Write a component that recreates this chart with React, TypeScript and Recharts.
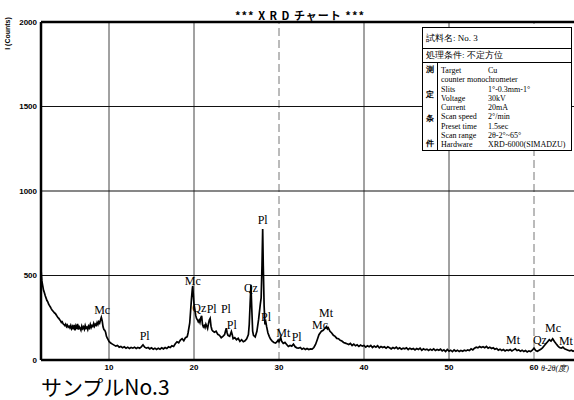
import React from "react"
import { ComposedChart, Line, Scatter, XAxis, YAxis, ReferenceLine } from "recharts"

// 2θ (deg) / intensity (counts)
const lowAngle: [number, number][] = [
  [2.0, 540], [2.05, 500], [2.1, 468], [2.2, 440], [2.3, 412], [2.4, 398], [2.5, 380], [2.6, 366], [2.7, 352],
  [2.8, 344], [2.9, 330], [3.0, 322], [3.1, 314], [3.2, 304], [3.3, 296], [3.4, 290], [3.5, 284], [3.6, 278],
  [3.7, 274], [3.8, 266], [3.9, 258], [4.0, 250], [4.1, 246], [4.2, 238], [4.3, 232], [4.4, 222], [4.5, 226],
  [4.6, 214], [4.7, 210], [4.8, 204], [4.9, 212], [5.0, 198], [5.1, 206], [5.2, 194], [5.3, 200], [5.4, 190],
  [5.5, 204], [5.6, 186], [5.7, 198], [5.8, 182], [5.9, 208], [6.0, 176], [6.1, 200], [6.2, 184], [6.3, 214],
  [6.4, 180], [6.5, 196], [6.6, 188], [6.7, 176], [6.8, 200], [6.9, 186], [7.0, 196], [7.1, 182], [7.2, 204],
  [7.3, 188], [7.4, 194], [7.5, 180], [7.6, 200], [7.7, 190], [7.8, 210], [7.9, 192], [8.0, 204], [8.1, 198],
  [8.2, 216], [8.3, 200], [8.4, 212], [8.5, 206], [8.6, 222], [8.7, 210], [8.8, 226], [8.9, 218], [9.0, 236],
  [9.1, 252], [9.2, 232], [9.3, 196], [9.4, 180], [9.5, 176], [9.6, 164], [9.7, 140], [9.8, 130], [9.9, 120],
  [10.0, 110], [10.2, 100], [10.4, 94], [10.6, 88], [10.8, 82], [11.0, 86], [11.2, 76], [11.4, 80], [11.6, 72],
  [11.8, 78], [12.0, 70], [12.2, 76], [12.4, 68], [12.6, 74], [12.8, 70], [13.0, 76], [13.2, 68], [13.4, 74],
  [13.6, 70], [13.8, 78], [14.0, 90], [14.2, 76], [14.4, 70], [14.6, 74], [14.8, 66], [15.0, 72], [15.2, 64],
  [15.4, 70], [15.6, 62], [15.8, 70], [16.0, 64], [16.2, 72], [16.4, 66], [16.6, 74], [16.8, 68], [17.0, 78],
  [17.2, 74], [17.4, 84], [17.6, 80], [17.8, 96], [18.0, 108], [18.2, 102], [18.4, 118], [18.6, 126],
  [18.8, 114], [19.0, 132], [19.2, 138], [19.3, 160],
]

const mainPeaks: [number, number][] = [
  [19.5, 220], [19.6, 290], [19.7, 360], [19.8, 420], [19.85, 438], [19.9, 400], [20.0, 330], [20.1, 300],
  [20.2, 264], [20.3, 246], [20.4, 238], [20.5, 226], [20.6, 236], [20.7, 222], [20.8, 250], [20.9, 262],
  [21.0, 210], [21.1, 196], [21.2, 204], [21.3, 192], [21.4, 212], [21.5, 200], [21.6, 186], [21.7, 214],
  [21.8, 236], [21.9, 246], [22.0, 200], [22.1, 180], [22.2, 172], [22.4, 164], [22.6, 170], [22.8, 152],
  [23.0, 146], [23.2, 132], [23.4, 140], [23.6, 150], [23.7, 170], [23.8, 188], [23.9, 160], [24.0, 146],
  [24.2, 140], [24.4, 168], [24.5, 150], [24.6, 126], [24.8, 132], [25.0, 120], [25.2, 128], [25.4, 110],
  [25.6, 120], [25.8, 108], [26.0, 114], [26.2, 126], [26.4, 150], [26.5, 210], [26.6, 330], [26.7, 445],
  [26.8, 300], [26.9, 170], [27.0, 146], [27.2, 136], [27.4, 170], [27.6, 240], [27.8, 330], [27.9, 368],
  [28.0, 560], [28.08, 775], [28.15, 560], [28.25, 320], [28.35, 210], [28.45, 224], [28.55, 196], [28.7, 160],
  [28.85, 140], [29.0, 124], [29.2, 112], [29.4, 104], [29.6, 100], [29.8, 110], [29.9, 118], [30.0, 108],
  [30.2, 134], [30.3, 112], [30.5, 98], [30.7, 104], [30.9, 92], [31.1, 80], [31.3, 86], [31.5, 82],
  [31.7, 94], [31.9, 78], [32.1, 72], [32.3, 70], [32.5, 74], [32.7, 64], [32.9, 70], [33.1, 62], [33.3, 68],
  [33.5, 62], [33.7, 66], [33.9, 64], [34.1, 74], [34.3, 92], [34.5, 120], [34.7, 150], [34.9, 164],
  [35.0, 170], [35.2, 176], [35.4, 188], [35.6, 198], [35.7, 184], [35.8, 190], [36.0, 170], [36.2, 160],
  [36.4, 146], [36.6, 140], [36.8, 128], [37.0, 126], [37.2, 116], [37.4, 112], [37.6, 104], [37.8, 100],
  [38.0, 96],
]

const highAngle: [number, number][] = [
  [38.2, 92], [38.4, 98], [38.6, 86], [38.8, 94], [39.0, 84], [39.2, 90], [39.4, 80], [39.6, 88], [39.8, 82],
  [40.0, 86], [40.2, 76], [40.4, 84], [40.6, 78], [40.8, 86], [41.0, 74], [41.2, 82], [41.4, 76], [41.6, 84],
  [41.8, 72], [42.0, 80], [42.2, 74], [42.4, 78], [42.6, 70], [42.8, 78], [43.0, 72], [43.2, 66], [43.4, 74],
  [43.6, 68], [43.8, 76], [44.0, 66], [44.2, 72], [44.4, 64], [44.6, 70], [44.8, 66], [45.0, 72], [45.2, 62],
  [45.4, 70], [45.6, 64], [45.8, 68], [46.0, 60], [46.2, 68], [46.4, 62], [46.6, 70], [46.8, 58], [47.0, 66],
  [47.2, 60], [47.4, 64], [47.6, 56], [47.8, 64], [48.0, 58], [48.2, 66], [48.4, 56], [48.6, 62], [48.8, 58],
  [49.0, 64], [49.2, 54], [49.4, 60], [49.6, 50], [49.8, 62], [50.0, 52], [50.2, 58], [50.4, 50], [50.6, 60],
  [50.8, 52], [51.0, 58], [51.2, 50], [51.4, 56], [51.6, 52], [51.8, 58], [52.0, 54], [52.2, 60], [52.4, 56],
  [52.6, 66], [52.8, 60], [53.0, 70], [53.2, 76], [53.4, 72], [53.6, 80], [53.8, 74], [54.0, 78], [54.2, 72],
  [54.4, 80], [54.6, 70], [54.8, 76], [55.0, 68], [55.2, 72], [55.4, 64], [55.6, 68], [55.8, 58], [56.0, 64],
  [56.2, 56], [56.4, 62], [56.6, 54], [56.8, 60], [57.0, 56], [57.2, 62], [57.4, 54], [57.6, 60], [57.8, 66],
  [58.0, 56], [58.2, 60], [58.4, 52], [58.6, 58], [58.8, 50], [59.0, 56], [59.2, 48], [59.4, 54], [59.6, 50],
  [59.8, 58], [60.0, 70], [60.2, 56], [60.4, 52], [60.6, 58], [60.8, 64], [61.0, 72], [61.2, 84], [61.4, 96],
  [61.6, 108], [61.8, 120], [62.0, 112], [62.2, 126], [62.4, 110], [62.6, 96], [62.8, 84], [63.0, 74],
  [63.2, 70], [63.4, 76], [63.6, 66], [63.8, 62], [64.0, 58], [64.2, 54], [64.4, 58], [64.6, 52], [64.8, 56],
  [65.0, 54],
]

// phase labels: name, 2θ, counts where the text sits
const peakLabels: [string, number, number][] = [
  ["Mc", 9.2, 296], ["Pl", 14.2, 140], ["Mc", 19.85, 467], ["Qz", 20.62, 308], ["Pl", 22.08, 300],
  ["Pl", 23.76, 300], ["Pl", 24.44, 207], ["Qz", 26.7, 426], ["Pl", 28.08, 828], ["Pl", 28.47, 254],
  ["Mt", 30.5, 160], ["Pl", 32.08, 136], ["Mc", 34.82, 207], ["Mt", 35.53, 278], ["Mt", 57.53, 118],
  ["Qz", 60.7, 118], ["Mc", 62.24, 189], ["Mt", 63.76, 112],
]

const xTicks = [10, 20, 30, 40, 50, 60]
const yTicks = [0, 500, 1000, 1500, 2000]

const conditions: [string, string][] = [
  ["Target", "Cu"],
  ["counter monochrometer", ""],
  ["Slits", "1°-0.3mm-1°"],
  ["Voltage", "30kV"],
  ["Current", "20mA"],
  ["Scan speed", "2°/min"],
  ["Preset time", "1.5sec"],
  ["Scan range", "2θ-2°~65°"],
  ["Hardware", "XRD-6000(SIMADZU)"],
]

const scan = [...lowAngle, ...mainPeaks, ...highAngle].map(([angle, count]) => ({ angle, count }))
const labels = peakLabels.map(([name, angle, count]) => ({ name, angle, count }))

const tickStyle = { fontSize: 8, fontWeight: 700, fill: "#000", fontFamily: "Liberation Sans" }

function PeakText(props: any) {
  return (
    <text
      x={props.cx}
      y={props.cy}
      textAnchor="middle"
      dominantBaseline="central"
      fontFamily="Liberation Serif"
      fontSize={12}
      fill="#000"
    >
      {props.payload.name}
    </text>
  )
}

export default function App() {
  return (
    <div style={{ position: "absolute", left: 0, top: 0, width: 574, height: 400, overflow: "hidden", background: "#fff" }}>
      <ComposedChart width={590} height={400} margin={{ top: 22, right: 13.5, bottom: 20, left: 0 }}>
        <XAxis
          dataKey="angle"
          type="number"
          domain={[2, 65]}
          ticks={xTicks}
          allowDataOverflow
          height={20}
          tickSize={0}
          tickMargin={4}
          tick={tickStyle}
          axisLine={{ stroke: "#000", strokeWidth: 2.5 }}
        />
        <YAxis
          type="number"
          domain={[0, 2000]}
          ticks={yTicks}
          width={41}
          tickSize={0}
          tickMargin={4}
          tick={tickStyle}
          axisLine={{ stroke: "#000", strokeWidth: 2.5 }}
        />
        {xTicks.map((t) => (
          <ReferenceLine
            key={"v" + t}
            x={t}
            stroke={t === 30 || t === 60 ? "#777" : "#444"}
            strokeWidth={1}
            strokeDasharray={t === 30 || t === 60 ? "8 4" : undefined}
          />
        ))}
        {yTicks.slice(1, 4).map((t) => (
          <ReferenceLine key={"h" + t} y={t} stroke="#111" strokeWidth={1.2} />
        ))}
        <ReferenceLine y={2000} stroke="#000" strokeWidth={2.5} />
        <Line
          data={scan}
          dataKey="count"
          type="linear"
          stroke="#000"
          strokeWidth={1.7}
          dot={false}
          isAnimationActive={false}
        />
        <Scatter data={labels} dataKey="count" shape={PeakText} isAnimationActive={false} />
      </ComposedChart>

      <div
        style={{
          position: "absolute", left: 220, top: 8, width: 160, textAlign: "center", letterSpacing: 1,
          fontFamily: "Noto Sans CJK JP", fontSize: 11, fontWeight: 700, lineHeight: "14px", whiteSpace: "nowrap",
        }}
      >
        *** X R D チャート ***
      </div>
      <div
        style={{
          position: "absolute", left: -18, top: 29, width: 50, textAlign: "center", transform: "rotate(-90deg)",
          fontFamily: "Liberation Sans", fontSize: 7, fontWeight: 700, lineHeight: "9px", whiteSpace: "nowrap",
        }}
      >
        I (Counts)
      </div>
      <div
        style={{
          position: "absolute", left: 541, top: 364, fontFamily: "Liberation Serif", fontStyle: "italic",
          fontSize: 8, lineHeight: "9px", whiteSpace: "nowrap",
        }}
      >
        θ-2θ(度)
      </div>
      <div
        style={{
          position: "absolute", left: 41, top: 375, fontFamily: "Noto Sans CJK JP", fontSize: 21,
          lineHeight: "22px", whiteSpace: "nowrap", color: "#000",
        }}
      >
        サンプルNo.3
      </div>

      <div
        style={{
          position: "absolute", left: 422, top: 27, width: 148, height: 122, border: "1.5px solid #000",
          background: "#fff", fontFamily: "Liberation Serif", fontSize: 8, color: "#000", lineHeight: "9px",
        }}
      >
        <div style={{ height: 20, borderBottom: "1px solid #000", paddingLeft: 3, display: "flex", alignItems: "center", fontSize: 9 }}>
          試料名: No. 3
        </div>
        <div style={{ height: 13, borderBottom: "1px solid #000", paddingLeft: 3, display: "flex", alignItems: "center", fontSize: 9 }}>
          処理条件: 不定方位
        </div>
        <div style={{ display: "flex", height: 87 }}>
          <div
            style={{
              width: 14, borderRight: "1px solid #000", display: "flex", flexDirection: "column",
              justifyContent: "space-between", alignItems: "center", fontWeight: 700, fontSize: 8, padding: "2px 0",
            }}
          >
            <span>測</span>
            <span>定</span>
            <span>条</span>
            <span>件</span>
          </div>
          <div style={{ flex: 1, display: "flex", flexDirection: "column", justifyContent: "space-between", padding: "3px 0 1px 3px" }}>
            {conditions.map(([k, v]) => (
              <div key={k} style={{ display: "flex", whiteSpace: "nowrap" }}>
                <span style={{ width: v ? 47 : "auto" }}>{k}</span>
                <span>{v}</span>
              </div>
            ))}
          </div>
        </div>
      </div>
    </div>
  )
}
